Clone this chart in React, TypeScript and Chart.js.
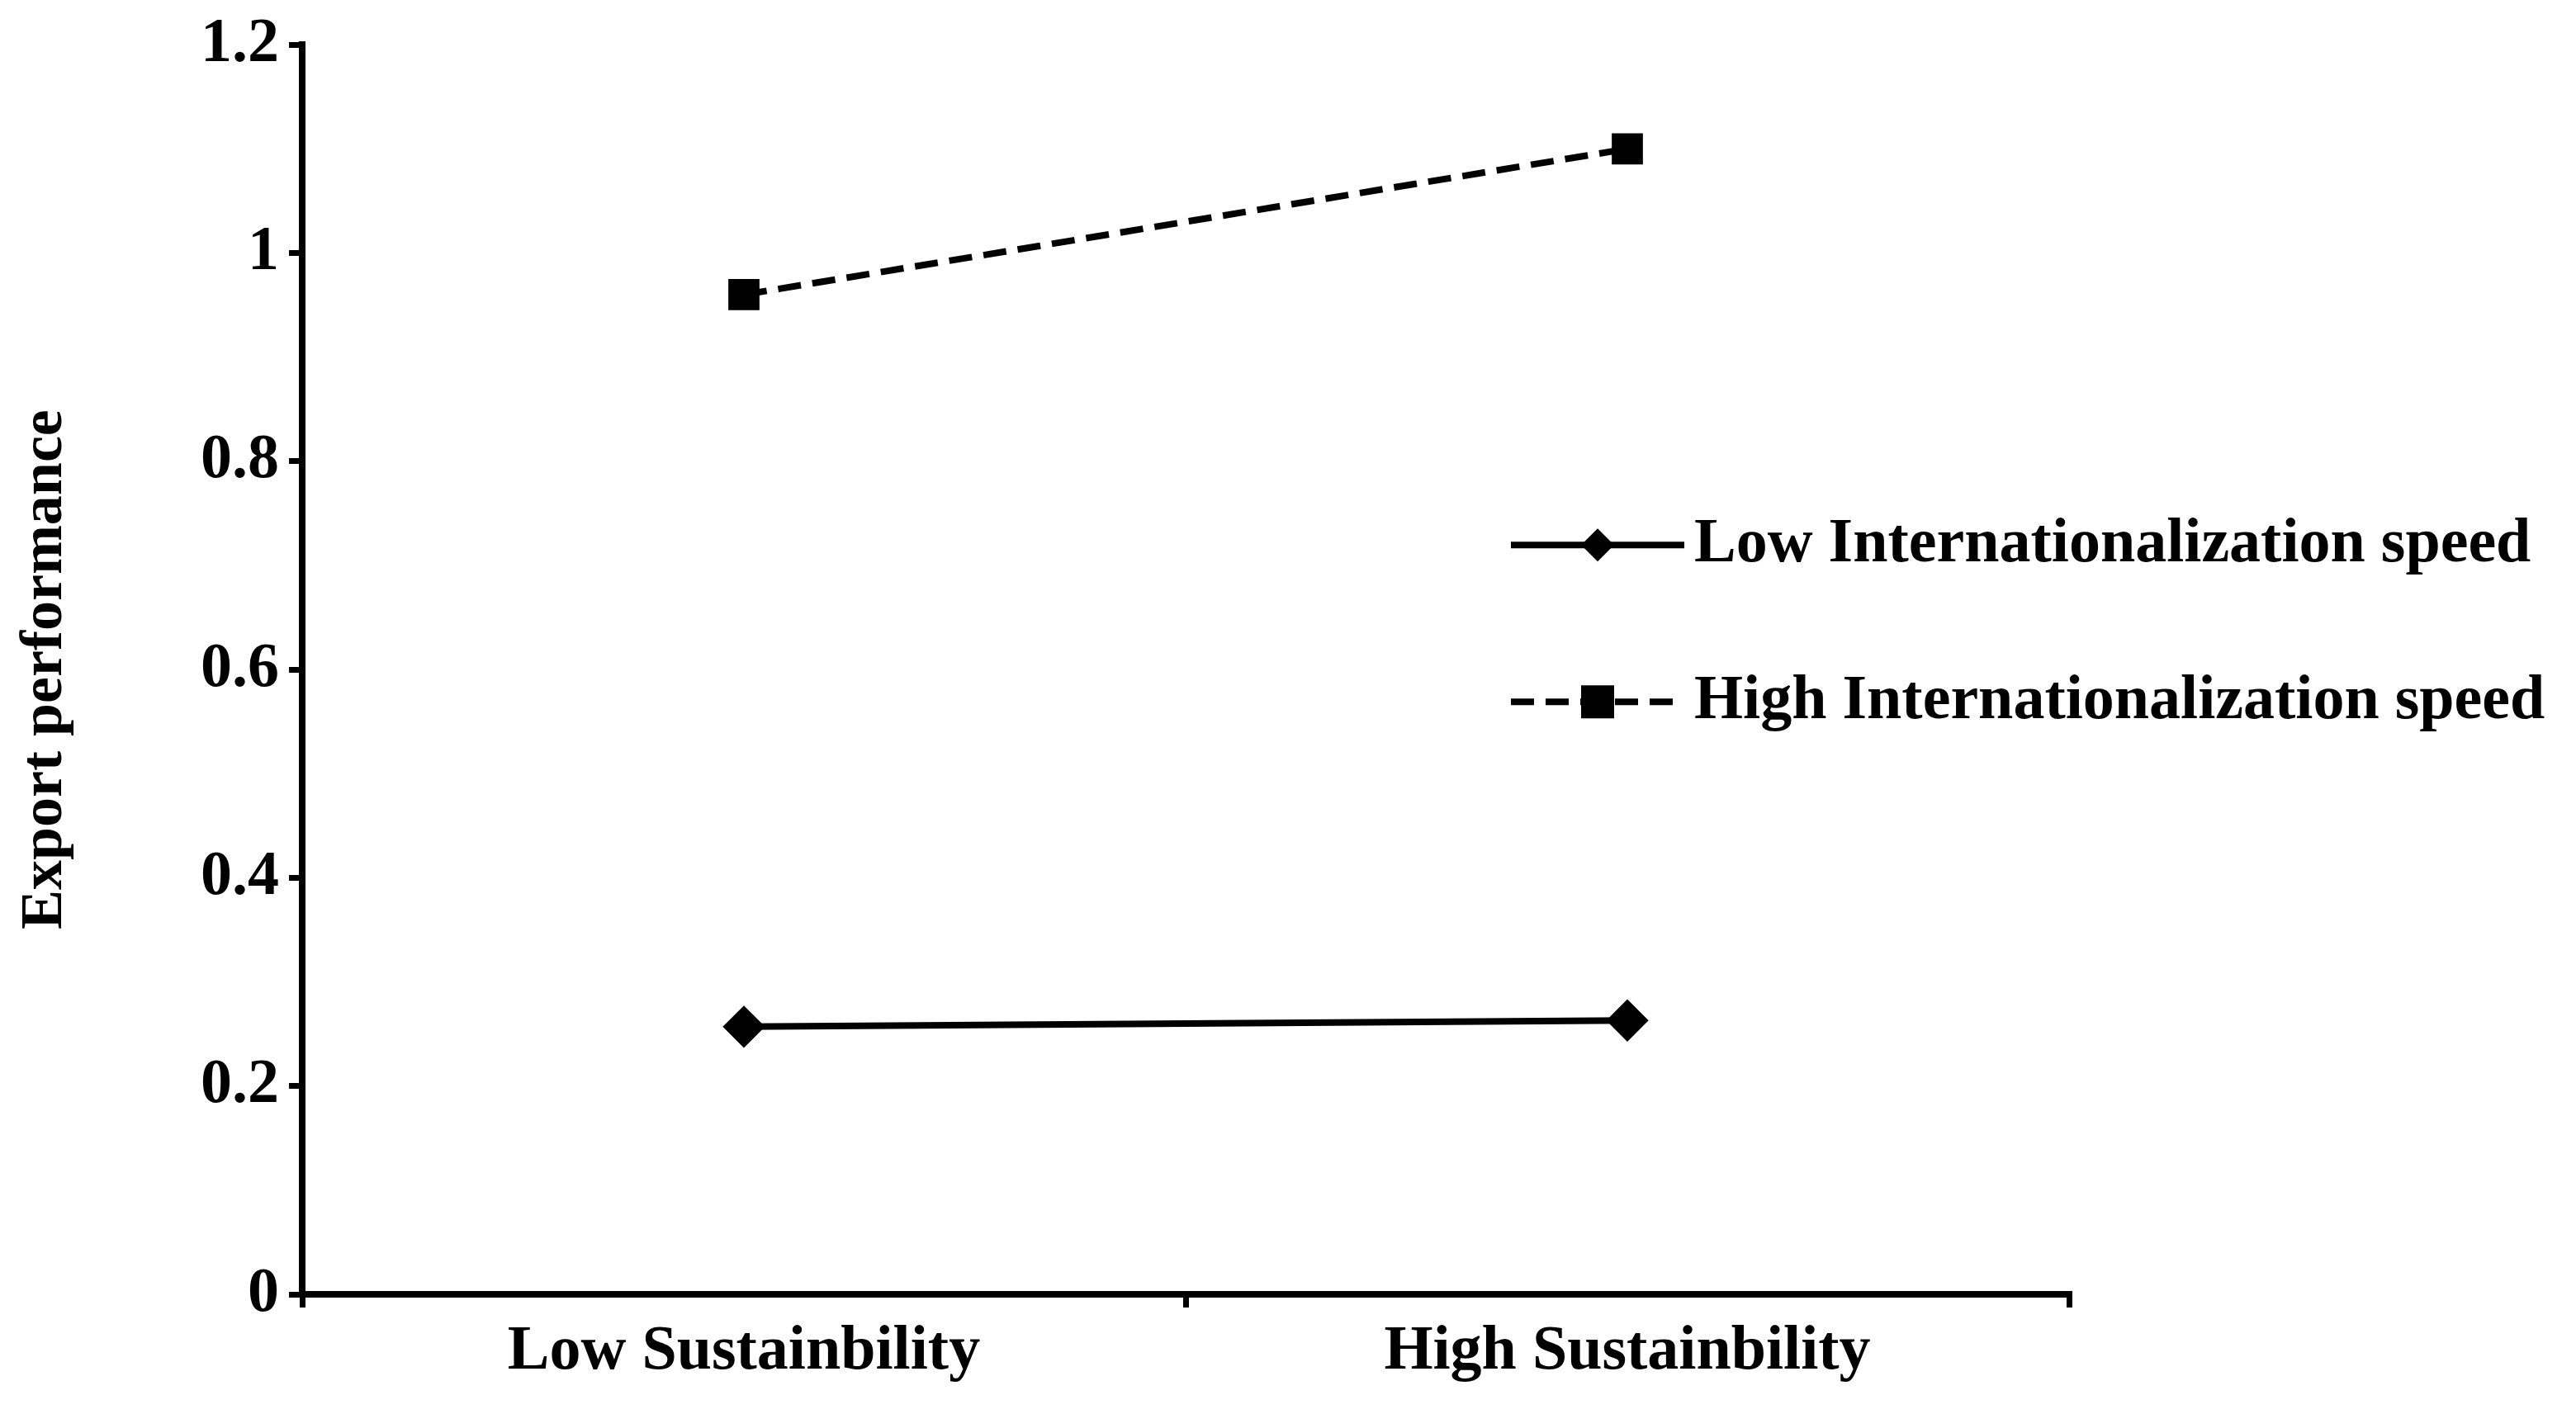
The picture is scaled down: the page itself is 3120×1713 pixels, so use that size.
import React, { useEffect, useRef } from "react";
import { Chart, registerables } from "chart.js";
Chart.register(...registerables);

const categories = ["Low Sustainbility", "High Sustainbility"];
const lowSpeed = [0.257, 0.263];
const highSpeed = [0.96, 1.1];
const seriesLabels = ["Low Internationalization speed", "High Internationalization speed"];
const FONT = "'Liberation Serif', 'Times New Roman', serif";

export default function App() {
  const ref = useRef<HTMLCanvasElement>(null);
  useEffect(() => {
    const legendPlugin = {
      id: "insideLegend",
      afterDraw(chart: any) {
        const { ctx, chartArea } = chart;
        const x0 = chartArea.right - 676;
        const ys = [chartArea.top + 606, chartArea.top + 796];
        ctx.save();
        ys.forEach((y, i) => {
          ctx.strokeStyle = "#000";
          ctx.lineWidth = 8;
          ctx.setLineDash(i === 1 ? [28, 14] : []);
          ctx.beginPath();
          ctx.moveTo(x0, y);
          ctx.lineTo(x0 + 210, y);
          ctx.stroke();
          ctx.setLineDash([]);
          ctx.fillStyle = "#000";
          const cx = x0 + 105;
          ctx.beginPath();
          if (i === 0) {
            ctx.moveTo(cx, y - 20); ctx.lineTo(cx + 20, y); ctx.lineTo(cx, y + 20); ctx.lineTo(cx - 20, y);
          } else {
            ctx.rect(cx - 20, y - 20, 40, 40);
          }
          ctx.closePath();
          ctx.fill();
          ctx.font = `bold 76px ${FONT}`;
          ctx.textBaseline = "middle";
          ctx.fillText(seriesLabels[i], x0 + 222, y);
        });
        ctx.restore();
      },
    };
    const tickFont = { family: FONT, size: 76, weight: "bold" as const, lineHeight: 0.9 };
    const chart = new Chart(ref.current!, {
      type: "line",
      data: {
        labels: categories,
        datasets: [
          { label: seriesLabels[0], data: lowSpeed, borderColor: "#000", backgroundColor: "#000", borderWidth: 8, pointStyle: "rectRot", pointRadius: 20 },
          { label: seriesLabels[1], data: highSpeed, borderColor: "#000", backgroundColor: "#000", borderWidth: 8, borderDash: [28, 14], pointStyle: "rect", pointRadius: 21 },
        ],
      },
      options: {
        animation: false,
        responsive: true,
        maintainAspectRatio: false,
        layout: { padding: { top: 0, right: 606, left: 0, bottom: 0 } },
        plugins: { legend: { display: false }, tooltip: { enabled: false } },
        scales: {
          x: {
            offset: true,
            afterFit: (s: any) => { s.height = 137; },
            grid: { offset: true, drawOnChartArea: false, drawTicks: true, tickLength: 16, color: "#000", lineWidth: 7 },
            border: { color: "#000", width: 8 },
            ticks: { color: "#000", font: tickFont, padding: 20 },
          },
          y: {
            min: 0, max: 1.2,
            afterFit: (s: any) => { s.width = 358; },
            grid: { drawOnChartArea: false, drawTicks: true, tickLength: 16, color: "#000", lineWidth: 7 },
            border: { color: "#000", width: 8 },
            ticks: { stepSize: 0.2, color: "#000", font: tickFont, padding: 12,
              callback: (v: any) => String(Math.round(Number(v) * 10) / 10) },
            title: { display: true, text: "Export performance", color: "#000", font: { family: FONT, size: 72, weight: "bold" }, padding: { bottom: 40 } },
          },
        },
      },
      plugins: [legendPlugin],
    });
    return () => chart.destroy();
  }, []);
  return (
    <div style={{ width: "3104px", height: "1697px" }}>
      <canvas ref={ref} />
    </div>
  );
}
